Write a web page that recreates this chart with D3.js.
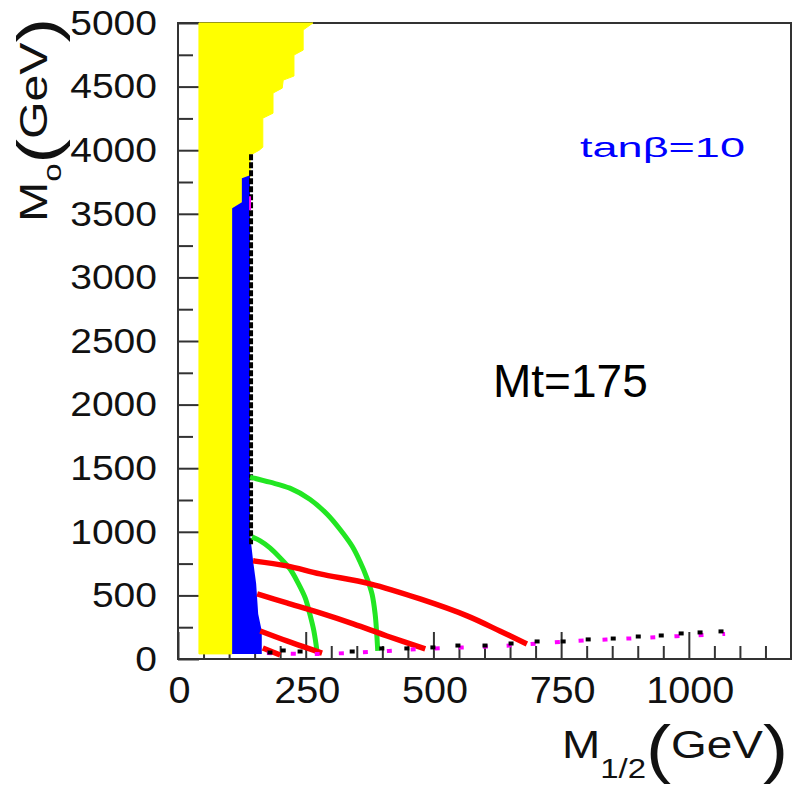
<!DOCTYPE html>
<html lang="en">
<head>
  <meta charset="UTF-8">
  <title>M0 vs M1/2, tanβ=10</title>
  <script src="https://d3js.org/d3.v7.min.js"></script>
  <style>
    body { margin: 0; background: #fff; }
    svg { display: block; font-family: "Liberation Sans", Arial, sans-serif; }
  </style>
</head>
<body>
  <svg width="792" height="787"></svg>
  <script>
    // region boundaries and curves, [M1/2, M0] in GeV
    const yellowEdge = [[41,40],[41,5000],[264,5000],[245,4945],[245,4787],[227,4748],[227,4583],[206,4551],[204,4488],
      [186,4449],[186,4291],[166,4252],[166,4024],[159,4000],[145,3969],[141,3969],[141,3787],[125,3787],[125,3591],[106,3543],[106,40]];
    const blueEdge = [[125,3780],[141,3803],[141,984],[147,772],[153,591],[157,354],[164,220],[164,40],[106,40],[106,3543],[125,3591]];
    const blackEdge = [[143,3969],[143,890]];
    const magentaBit = [[141,3638],[141,3528]];
    const greenOuter = [[141,1430],[180,1390],[219,1343],[258,1256],[292,1138],[317,1020],[341,886],[356,768],[370,634],
      [380,508],[386,350],[389,201],[391,63]];
    const greenInner = [[145,960],[161,929],[180,874],[200,795],[219,709],[235,598],[249,480],[258,354],[266,220],[272,63]];
    const red1 = [[147,772],[213,732],[278,669],[376,591],[474,472],[566,339],[630,220],[683,118]];
    const red2 = [[155,512],[213,441],[278,362],[343,276],[409,181],[484,79]];
    const red3 = [[161,220],[213,142],[258,79],[282,47]];
    const red4 = [[166,87],[200,31]];
    const magentaLine = [[174,47],[264,39],[374,55],[478,79],[630,102],[781,142],[904,165],[1071,197]];
    const blackMarks = [[180,47],[206,63],[239,55],[341,55],[399,79],[448,79],[499,87],[548,102],[601,102],[652,118],
      [703,134],[754,134],[803,150],[852,157],[901,173],[946,181],[985,197],[1022,205],[1063,213]];

    const xTicks = d3.range(0, 1201, 50);
    const xLabels = [0, 250, 500, 750, 1000];
    const yTicks = d3.range(0, 5001, 250);
    const yLabels = d3.range(0, 5001, 500);

    const svg = d3.select("svg");
    const x = d3.scaleLinear().domain([0, 1200]).range([178, 791]);
    const y = d3.scaleLinear().domain([0, 5000]).range([659, 23]);
    const axisColor = "#333";

    // frame
    svg.append("rect")
      .attr("x", x(0)).attr("y", y(5000))
      .attr("width", x(1200) - x(0)).attr("height", y(0) - y(5000))
      .attr("fill", "none").attr("stroke", axisColor).attr("stroke-width", 2);

    function styleAxis(g) {
      g.attr("font-family", null).attr("font-size", null);
      g.select(".domain").remove();
      g.selectAll("line").attr("stroke", axisColor).attr("stroke-width", 2);
      g.selectAll("text").attr("fill", "#111");
    }

    // x ticks (inward, up)
    svg.append("g").attr("transform", `translate(0,${y(0)})`)
      .call(d3.axisBottom(x).tickValues(xTicks.filter(v => v % 250)).tickSize(-13).tickFormat(""))
      .call(styleAxis);
    svg.append("g").attr("transform", `translate(0,${y(0)})`)
      .call(d3.axisBottom(x).tickValues(xTicks.filter(v => v % 250 === 0)).tickSize(-27).tickFormat(""))
      .call(styleAxis);
    svg.append("g").attr("transform", `translate(1,${y(0)})`)
      .call(d3.axisBottom(x).tickValues(xLabels).tickSize(0).tickPadding(18).tickFormat(d3.format("d")))
      .call(styleAxis)
      .call(g => g.selectAll("text")
        .attr("font-size", 37)
        .attr("textLength", d => String(d).length * 22)
        .attr("lengthAdjust", "spacingAndGlyphs"));

    // y ticks (inward, right)
    svg.append("g").attr("transform", `translate(${x(0)},0)`)
      .call(d3.axisLeft(y).tickValues(yTicks.filter(v => v % 500)).tickSize(-15).tickFormat(""))
      .call(styleAxis);
    svg.append("g").attr("transform", `translate(${x(0)},0)`)
      .call(d3.axisLeft(y).tickValues(yLabels).tickSize(-21).tickFormat(""))
      .call(styleAxis);
    svg.append("g").attr("transform", `translate(${x(0)},0)`)
      .call(d3.axisLeft(y).tickValues(yLabels).tickSize(0).tickPadding(21).tickFormat(d3.format("d")))
      .call(styleAxis)
      .call(g => g.selectAll("text")
        .attr("font-size", 35)
        .attr("textLength", d => String(d).length * 21.7)
        .attr("lengthAdjust", "spacingAndGlyphs"));

    // filled regions
    const area = d3.line().x(d => x(d[0])).y(d => y(d[1]));
    svg.append("path").attr("d", area(yellowEdge) + "Z")
      .attr("fill", "#ffff00").attr("stroke", "#ffff00").attr("stroke-width", 1);
    svg.append("path").attr("d", area(blueEdge) + "Z")
      .attr("fill", "#0000ff");

    svg.append("path").attr("d", area(blackEdge))
      .attr("fill", "none").attr("stroke", "#000").attr("stroke-width", 4)
      .attr("stroke-dasharray", "6,2");
    svg.append("path").attr("d", area(magentaBit))
      .attr("fill", "none").attr("stroke", "#ff00ff").attr("stroke-width", 2);

    // contour curves
    const curve = d3.line().x(d => x(d[0])).y(d => y(d[1])).curve(d3.curveCatmullRom.alpha(0.5));
    [greenOuter, greenInner].forEach(c => {
      svg.append("path").attr("d", curve(c))
        .attr("fill", "none").attr("stroke", "#22e622").attr("stroke-width", 5);
    });
    [red1, red2, red3, red4].forEach(c => {
      svg.append("path").attr("d", curve(c))
        .attr("fill", "none").attr("stroke", "#ff0000").attr("stroke-width", 5.5);
    });

    svg.append("path").attr("d", curve(magentaLine))
      .attr("fill", "none").attr("stroke", "#ff00ff").attr("stroke-width", 4)
      .attr("stroke-dasharray", "5,19");

    svg.append("g").selectAll("rect")
      .data(blackMarks)
      .join("rect")
      .attr("x", d => x(d[0]) - 2.5)
      .attr("y", d => y(d[1]) - 2.5)
      .attr("width", 5).attr("height", 4)
      .attr("fill", "#000");

    // annotations
    svg.append("text")
      .attr("x", 580).attr("y", 157)
      .attr("font-size", 28).attr("fill", "#0000ff")
      .attr("textLength", 165).attr("lengthAdjust", "spacingAndGlyphs")
      .text("tanβ=10");

    svg.append("text")
      .attr("x", 493).attr("y", 397)
      .attr("font-size", 46).attr("fill", "#000")
      .text("Mt=175");

    // x title
    const xt = svg.append("text")
      .attr("x", 562).attr("y", 758)
      .attr("fill", "#111")
      .attr("textLength", 226).attr("lengthAdjust", "spacingAndGlyphs");
    xt.append("tspan").attr("font-size", 39).text("M");
    xt.append("tspan").attr("font-size", 28).attr("dy", 20).text("1/2");
    xt.append("tspan").attr("font-size", 64).attr("dy", -7).text("(");
    xt.append("tspan").attr("font-size", 39).attr("dy", -13).text("GeV");
    xt.append("tspan").attr("font-size", 64).attr("dy", 13).text(")");

    // y title
    const yt = svg.append("text")
      .attr("transform", "translate(47,222) rotate(-90)")
      .attr("fill", "#111")
      .attr("textLength", 204).attr("lengthAdjust", "spacingAndGlyphs");
    yt.append("tspan").attr("font-size", 38).text("M");
    yt.append("tspan").attr("font-size", 26).attr("dy", 14).text("o");
    yt.append("tspan").attr("font-size", 58).attr("dy", -3).text("(");
    yt.append("tspan").attr("font-size", 38).attr("dy", -11).text("GeV");
    yt.append("tspan").attr("font-size", 58).attr("dy", 11).text(")");
  </script>
</body>
</html>
